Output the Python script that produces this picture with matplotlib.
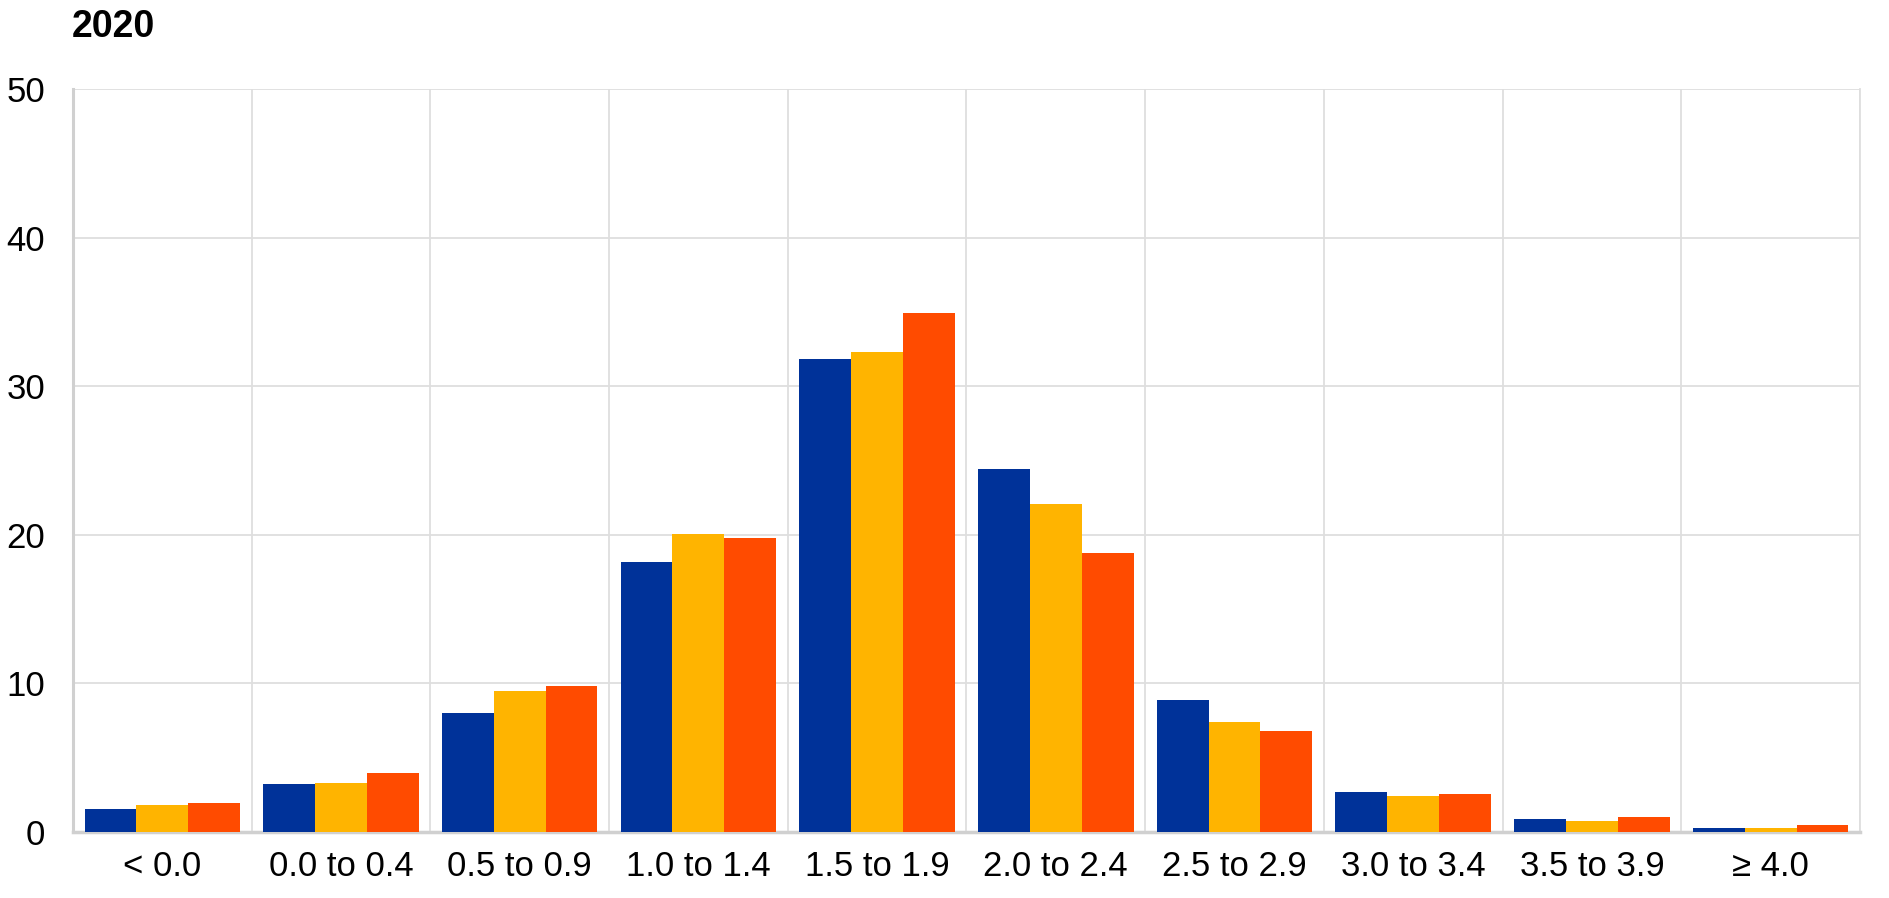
import numpy as np
import matplotlib
matplotlib.use("Agg")
import matplotlib.pyplot as plt

plt.rcParams['font.family'] = ['Liberation Sans', 'DejaVu Sans']

# data
categories = ["< 0.0", "0.0 to 0.4", "0.5 to 0.9", "1.0 to 1.4", "1.5 to 1.9",
              "2.0 to 2.4", "2.5 to 2.9", "3.0 to 3.4", "3.5 to 3.9", "\u2265 4.0"]
blue_vals = [1.55, 3.2, 8.0, 18.2, 31.8, 24.4, 8.9, 2.7, 0.9, 0.25]
yellow_vals = [1.8, 3.3, 9.5, 20.05, 32.3, 22.05, 7.4, 2.4, 0.75, 0.3]
red_vals = [1.95, 4.0, 9.8, 19.8, 34.9, 18.75, 6.8, 2.55, 1.0, 0.45]
yticks = [0, 10, 20, 30, 40, 50]

colors = ["#003299", "#FFB400", "#FF4B00"]
grid_col = "#dedede"

fig = plt.figure(figsize=(18.9, 8.98), dpi=100)
ax = fig.add_axes([0.0386, 0.0735, 0.9455, 0.8275])

x = np.arange(len(categories))
w = 0.29
for i, (vals, c) in enumerate(zip([blue_vals, yellow_vals, red_vals], colors)):
    ax.bar(x + (i - 1) * w, vals, width=w, color=c, edgecolor="none", zorder=3)

ax.set_xlim(-0.5, len(categories) - 0.5)
ax.set_ylim(0, 50)
ax.set_yticks(yticks)
ax.set_xticks(x)
ax.set_xticklabels(categories)

# grid lines
for yv in yticks[1:]:
    ax.axhline(yv, color=grid_col, lw=1.3, zorder=1)
for xv in np.arange(0.5, len(categories), 1.0):
    ax.axvline(xv, color=grid_col, lw=1.3, zorder=1)

ax.spines["top"].set_visible(False)
ax.spines["right"].set_color(grid_col)
ax.spines["right"].set_linewidth(1.3)
ax.spines["left"].set_color("#d0d0d0")
ax.spines["left"].set_linewidth(2.2)
ax.spines["bottom"].set_color("#d0d0d0")
ax.spines["bottom"].set_linewidth(2.5)

ax.tick_params(axis="both", length=0, labelsize=25)
ax.tick_params(axis="y", pad=20)
ax.tick_params(axis="x", pad=13)

fig.text(0.038, 0.99, "2020", fontsize=27, fontweight="bold", va="top", ha="left")

fig.savefig("out.png", dpi=100)
